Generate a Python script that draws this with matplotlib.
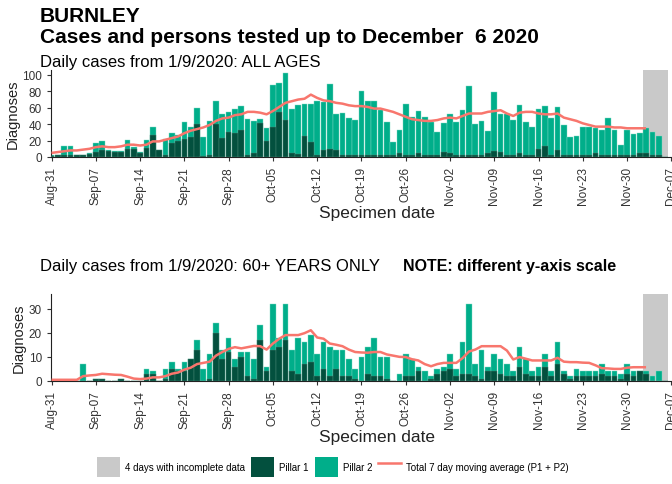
import matplotlib
matplotlib.use('Agg')
import matplotlib.pyplot as plt
from matplotlib.patches import Patch
from matplotlib.lines import Line2D
import pandas as pd

plt.rcParams['font.family'] = ['Liberation Sans', 'DejaVu Sans']

# Dados (a partir de 31/08/2020, um valor por dia)
start = pd.Timestamp('2020-08-31')

total_all = [2, 3, 13, 14, 3, 3, 5, 17, 19, 8, 7, 7, 21, 12, 6, 21, 36, 9, 22, 29,
             27, 43, 37, 60, 24, 44, 68, 53, 55, 58, 62, 46, 44, 46, 35, 88, 90, 102, 58, 63,
             65, 65, 68, 67, 89, 53, 54, 47, 45, 81, 68, 68, 57, 43, 18, 33, 65, 49, 56, 49,
             43, 31, 41, 53, 43, 57, 86, 40, 44, 32, 79, 53, 53, 45, 63, 43, 36, 59, 62, 47,
             61, 39, 24, 26, 37, 37, 35, 33, 47, 33, 15, 33, 28, 29, 35, 30, 25, 0]
pillar1_all = [1, 2, 2, 3, 3, 2, 4, 6, 8, 7, 6, 6, 10, 10, 5, 11, 27, 8, 2, 17,
               19, 22, 24, 40, 1, 2, 40, 23, 31, 29, 33, 3, 5, 42, 20, 37, 55, 45, 5, 4,
               26, 18, 2, 8, 10, 8, 3, 3, 2, 3, 2, 2, 2, 2, 2, 5, 2, 2, 5, 2,
               2, 3, 6, 5, 3, 3, 3, 3, 2, 5, 7, 6, 3, 2, 5, 3, 2, 10, 13, 2,
               9, 2, 2, 2, 3, 2, 5, 3, 2, 2, 2, 3, 2, 5, 5, 2, 2, 0]
ma_all = [5, 6, 7, 8, 8, 9, 10, 12, 13, 12, 12, 13, 15, 15, 14, 15, 19, 19, 21, 23,
          25, 29, 32, 34, 36, 39, 44, 47, 48, 51, 52, 55, 55, 54, 52, 56, 61, 66, 68, 70,
          71, 76, 72, 69, 68, 66, 65, 63, 62, 62, 61, 59, 59, 57, 55, 52, 49, 46, 45, 44,
          44, 45, 47, 48, 47, 50, 53, 53, 53, 55, 56, 57, 53, 50, 54, 55, 55, 53, 52, 52,
          53, 48, 46, 44, 41, 39, 37, 37, 37, 36, 36, 35, 35, 35, 35]

total_60 = [0, 0, 0, 0, 0, 7, 0, 1, 1, 0, 0, 1, 0, 0, 0, 5, 4, 0, 5, 8,
            5, 8, 9, 17, 5, 11, 24, 13, 18, 9, 12, 12, 9, 23, 6, 32, 18, 32, 13, 18,
            16, 19, 11, 16, 14, 13, 13, 9, 5, 10, 14, 18, 10, 10, 0, 3, 11, 9, 6, 4,
            2, 5, 6, 11, 5, 16, 32, 7, 13, 6, 11, 9, 7, 4, 14, 9, 4, 6, 11, 4,
            16, 4, 2, 5, 4, 4, 4, 7, 4, 4, 3, 7, 4, 4, 4, 2, 4, 0]
pillar1_60 = [0, 0, 0, 0, 0, 0, 0, 1, 1, 0, 0, 1, 0, 0, 0, 3, 3, 0, 1, 5,
              4, 4, 9, 13, 0, 1, 20, 9, 12, 6, 10, 2, 1, 17, 4, 13, 14, 17, 4, 3,
              7, 8, 2, 5, 2, 5, 2, 2, 1, 0, 3, 2, 2, 1, 0, 0, 2, 2, 4, 0,
              1, 3, 4, 5, 2, 3, 3, 2, 1, 4, 4, 3, 2, 2, 6, 3, 2, 2, 6, 2,
              7, 3, 1, 2, 2, 2, 2, 3, 2, 2, 1, 3, 2, 4, 3, 0, 0, 0]
ma_60 = [0.5, 0.5, 0.5, 0.5, 0.5, 2, 2.3, 2.5, 3, 2.8, 2.6, 2.5, 1.8, 1, 0.8, 1, 1.5, 1.5, 2, 3,
         3.5, 4.7, 5.5, 7, 7.5, 8, 10.5, 12, 13.3, 14, 13.5, 14, 14.5, 14.4, 13, 15.5, 17.5, 19, 19, 19,
         19.8, 21, 18, 17.5, 15.5, 15, 14.4, 13, 12, 11.8, 11.7, 12, 12, 11, 10.5, 10, 9.9, 9, 8.5, 7,
         6.1, 7, 7.5, 7.5, 7.5, 9.5, 12.2, 13, 14.4, 14.4, 14.4, 14.4, 12.6, 8.9, 9.9, 9.2, 8.5, 8.5, 8.5, 8.5,
         9.6, 8, 7.8, 7.8, 7.6, 7.5, 6.5, 5.3, 5.2, 5, 5, 5.5, 5.7, 5.7, 5.7]

incomplete_start = pd.Timestamp('2020-12-03')
incomplete_end = pd.Timestamp('2020-12-06')

COR_P1 = '#03503e'
COR_P2 = '#00ae8a'
COR_MA = '#f8766d'
COR_CINZA = '#c9c9c9'

W, H = 672, 485
fig = plt.figure(figsize=(W / 100, H / 100), dpi=100)


def draw_panel(ax, total, pillar1, ma, yticks, ylim):
    dates = pd.date_range(start, periods=len(total), freq='D')
    half = pd.Timedelta(hours=12)
    ax.axvspan(incomplete_start - half, incomplete_end + half, color=COR_CINZA, lw=0, zorder=0)
    ax.bar(dates, total, width=0.9, color=COR_P2, edgecolor='#7fd9c4', linewidth=0.3, zorder=2)
    ax.bar(dates, pillar1, width=0.9, color=COR_P1, edgecolor='#4f8a7a', linewidth=0.3, zorder=3)
    ma_dates = pd.date_range(start, periods=len(ma), freq='D')
    ax.plot(ma_dates, ma, color=COR_MA, lw=1.8, zorder=4, solid_capstyle='butt')

    ax.set_xlim(start - pd.Timedelta(hours=2), start + pd.Timedelta(days=98.1))
    ax.set_ylim(*ylim)
    ax.set_yticks(yticks)
    ticks = pd.date_range(start, '2020-12-07', freq='7D')
    ax.set_xticks(ticks)
    ax.set_xticklabels([t.strftime('%b-%d') for t in ticks], rotation=90)
    ax.tick_params(labelsize=8.5, colors='#333333', length=3, width=0.8)
    for s in ['top', 'right']:
        ax.spines[s].set_visible(False)
    for s in ['left', 'bottom']:
        ax.spines[s].set_color('#222222')
        ax.spines[s].set_linewidth(0.8)
    ax.set_ylabel('Diagnoses', fontsize=10.5, color='#222222', labelpad=2)
    ax.set_xlabel('Specimen date', fontsize=12.5, color='#222222', labelpad=3)
    # rótulo centrado como no original (eixo continua além da borda)
    ax.xaxis.set_label_coords(0.525, -0.55)


ax1 = fig.add_axes([51 / W, 1 - 158 / H, 621 / W, 87 / H])
draw_panel(ax1, total_all, pillar1_all, ma_all, [0, 20, 40, 60, 80, 100], (0, 106))

ax2 = fig.add_axes([51 / W, 1 - 382 / H, 621 / W, 87 / H])
draw_panel(ax2, total_60, pillar1_60, ma_60, [0, 10, 20, 30], (0, 36))

# Títulos
fig.text(40 / W, 1 - 17 / H, 'BURNLEY', fontsize=15, fontweight='bold', va='center')
fig.text(40 / W, 1 - 38 / H, 'Cases and persons tested up to December  6 2020',
         fontsize=15, fontweight='bold', va='center')
fig.text(40 / W, 1 - 62 / H, 'Daily cases from 1/9/2020: ALL AGES', fontsize=12, va='center')
fig.text(40 / W, 1 - 267 / H, 'Daily cases from 1/9/2020: 60+ YEARS ONLY', fontsize=12, va='center')
fig.text(403 / W, 1 - 267 / H, 'NOTE: different y-axis scale', fontsize=11.5,
         fontweight='bold', va='center')

# Legenda
handles = [
    Patch(facecolor=COR_CINZA, edgecolor='none'),
    Patch(facecolor=COR_P1, edgecolor='none'),
    Patch(facecolor=COR_P2, edgecolor='none'),
    Line2D([0], [0], color=COR_MA, lw=1.8),
]
labels = ['4 days with incomplete data', 'Pillar 1', 'Pillar 2',
          'Total 7 day moving average (P1 + P2)']
fig.legend(handles, labels, loc='center', bbox_to_anchor=(333 / W, 1 - 468 / H), ncol=4,
           frameon=False, fontsize=7, handlelength=2.4, handleheight=2.8,
           handletextpad=0.5, columnspacing=0.6)

fig.savefig('out.png', dpi=100)
